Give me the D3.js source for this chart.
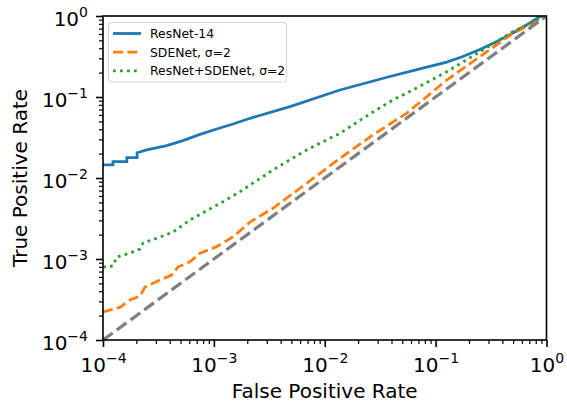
<!DOCTYPE html>
<html lang="en">
	<head>
		<meta charset="utf-8">
		<title>ROC curves, log-log</title>
		<script src="https://cdn.jsdelivr.net/npm/d3@7"></script>
		<style type="text/css">
			body { margin: 0; background: #fff; }
			text { font-family: "DejaVu Sans", sans-serif; fill: #000; }
		</style>
	</head>
	<body>
		<script type="text/javascript">

			//Size of the picture
			var w = 567;
			var h = 402;

			//ROC points
			var fprResNet = [1e-4, 1.23e-4, 1.23e-4, 1.64e-4, 1.64e-4, 2.03e-4, 2.03e-4, 2.48e-4, 3.75e-4, 5.26e-4, 7.5e-4, 1.06e-3, 1.49e-3, 2.12e-3, 4.86e-3, 0.0137, 0.0387, 0.0624, 0.126, 0.176, 0.251, 0.357, 0.497, 0.708, 0.872, 1];
			var tprResNet = [0.0145, 0.0145, 0.0159, 0.0159, 0.0178, 0.0178, 0.0205, 0.0222, 0.0251, 0.0289, 0.0346, 0.0403, 0.0464, 0.0546, 0.0759, 0.122, 0.179, 0.212, 0.270, 0.316, 0.386, 0.485, 0.617, 0.820, 0.986, 1];

			var fprSDE = [1e-4, 1.42e-4, 1.75e-4, 2.16e-4, 2.39e-4, 3.27e-4, 4.16e-4, 4.74e-4, 6.09e-4, 7.5e-4, 1.06e-3, 1.49e-3, 2.12e-3, 3.41e-3, 6.87e-3, 0.0137, 0.0272, 0.0547, 0.126, 0.251, 0.497, 0.873, 1];
			var tprSDE = [2.22e-4, 2.53e-4, 3.12e-4, 3.49e-4, 4.51e-4, 5.5e-4, 6.34e-4, 7.96e-4, 9.26e-4, 1.18e-3, 1.42e-3, 1.88e-3, 2.86e-3, 4.23e-3, 8.6e-3, 0.0175, 0.0340, 0.0629, 0.162, 0.315, 0.611, 0.893, 1];

			var fprBoth = [1e-4, 1.23e-4, 1.33e-4, 1.75e-4, 2.16e-4, 2.30e-4, 3.05e-4, 4.28e-4, 6.09e-4, 8.61e-4, 1.21e-3, 1.72e-3, 3.41e-3, 6.87e-3, 0.0137, 0.0272, 0.0412, 0.0624, 0.126, 0.251, 0.497, 0.815, 1];
			var tprBoth = [7.96e-4, 8.2e-4, 1.06e-3, 1.18e-3, 1.33e-3, 1.58e-3, 1.80e-3, 2.15e-3, 3.03e-3, 3.95e-3, 5.10e-3, 6.78e-3, 0.01256, 0.0222, 0.0356, 0.0653, 0.0918, 0.122, 0.205, 0.362, 0.640, 0.893, 1];

			//Chance line
			var fprChance = [1e-4, 1];
			var tprChance = [1e-4, 1];

			var seriesNames = ["ResNet-14", "SDENet, σ=2", "ResNet+SDENet, σ=2"];
			var majorTicks = [1e-4, 1e-3, 1e-2, 1e-1, 1];
			var tickExponents = ["−4", "−3", "−2", "−1", "0"];

			//Plot area (not named "top": that is window.top)
			var plotL = 103, plotR = 546.5, plotT = 16, plotB = 340;

			var x = d3.scaleLog().domain([1e-4, 1]).range([plotL, plotR]);
			var y = d3.scaleLog().domain([1e-4, 1]).range([plotB, plotT]);

			var minorTicks = [];
			for (var k = -4; k < 0; k++) {
				for (var m = 2; m <= 9; m++) { minorTicks.push(m * Math.pow(10, k)); }
			}

			var svg = d3.select("body")
						.append("svg")
						.attr("width", w)
						.attr("height", h);

			svg.append("clipPath").attr("id", "plotclip")
			   .append("rect")
			   .attr("x", plotL).attr("y", plotT)
			   .attr("width", plotR - plotL).attr("height", plotB - plotT);

			var line = d3.line()
						 .x(function(d) { return x(d[0]); })
						 .y(function(d) { return y(d[1]); });

			function pairs(a, b) { return a.map(function(v, i) { return [v, b[i]]; }); }

			var series = [
				{ pts: pairs(fprResNet, tprResNet), color: "#1f77b4", width: 2.8, dash: null },
				{ pts: pairs(fprSDE, tprSDE), color: "#ff7f0e", width: 2.8, dash: "10,4.4" },
				{ pts: pairs(fprBoth, tprBoth), color: "#2ca02c", width: 2.8, dash: "2.8,4.2" },
				{ pts: pairs(fprChance, tprChance), color: "#7f7f7f", width: 3.2, dash: "12,5" }
			];

			var plot = svg.append("g").attr("clip-path", "url(#plotclip)");
			plot.selectAll("path")
				.data(series)
				.enter()
				.append("path")
				.attr("d", function(d) { return line(d.pts); })
				.attr("fill", "none")
				.attr("stroke", function(d) { return d.color; })
				.attr("stroke-width", function(d) { return d.width; })
				.attr("stroke-dasharray", function(d) { return d.dash; });

			//Axes: minor ticks first, then major ticks with labels
			function styleAxis(g, width) {
				g.select(".domain").remove();
				g.selectAll("line").attr("stroke", "#000").attr("stroke-width", width);
			}

			svg.append("g").attr("transform", "translate(0," + plotB + ")")
			   .call(d3.axisBottom(x).tickValues(minorTicks).tickSize(4).tickFormat(""))
			   .call(styleAxis, 1.2);
			svg.append("g").attr("transform", "translate(" + plotL + ",0)")
			   .call(d3.axisLeft(y).tickValues(minorTicks).tickSize(4).tickFormat(""))
			   .call(styleAxis, 1.2);

			var xAxis = svg.append("g").attr("transform", "translate(0," + plotB + ")")
			   .call(d3.axisBottom(x).tickValues(majorTicks).tickSize(7).tickFormat(""))
			   .call(styleAxis, 1.6);
			var yAxis = svg.append("g").attr("transform", "translate(" + plotL + ",0)")
			   .call(d3.axisLeft(y).tickValues(majorTicks).tickSize(7).tickFormat(""))
			   .call(styleAxis, 1.6);

			function powerLabel(sel) {
				sel.each(function(d, i) {
					var t = d3.select(this);
					t.text(null);
					t.append("tspan").text("10");
					t.append("tspan").attr("dy", -9).style("font-size", "14px").text(tickExponents[i]);
				});
			}

			xAxis.selectAll(".tick").append("text")
				 .attr("y", 32).attr("text-anchor", "middle")
				 .style("font-size", "20px")
				 .call(powerLabel);
			yAxis.selectAll(".tick").append("text")
				 .attr("x", -15).attr("y", 9).attr("text-anchor", "end")
				 .style("font-size", "20px")
				 .call(powerLabel);

			//Frame
			svg.append("rect")
			   .attr("x", plotL).attr("y", plotT)
			   .attr("width", plotR - plotL).attr("height", plotB - plotT)
			   .attr("fill", "none").attr("stroke", "#000").attr("stroke-width", 1.6);

			//Axis titles
			svg.append("text")
			   .attr("x", (plotL + plotR) / 2).attr("y", 398)
			   .attr("text-anchor", "middle").style("font-size", "20px")
			   .text("False Positive Rate");
			svg.append("text")
			   .attr("transform", "translate(26.5," + (plotT + plotB) / 2 + ") rotate(-90)")
			   .attr("text-anchor", "middle").style("font-size", "20px")
			   .text("True Positive Rate");

			//Legend
			var legend = svg.append("g");
			legend.append("rect")
				  .attr("x", 108.5).attr("y", 22.5)
				  .attr("width", 178).attr("height", 59.5)
				  .attr("rx", 3.5)
				  .attr("fill", "#fff").attr("fill-opacity", 0.8)
				  .attr("stroke", "#d6d6d6").attr("stroke-width", 1.2);

			var rows = legend.selectAll("g.row")
				  .data(seriesNames)
				  .enter()
				  .append("g")
				  .attr("class", "row")
				  .attr("transform", function(d, i) { return "translate(0," + (33.5 + i * 18.7) + ")"; });
			rows.append("line")
				.attr("x1", 113).attr("x2", 141)
				.attr("stroke", function(d, i) { return series[i].color; })
				.attr("stroke-width", function(d, i) { return series[i].width; })
				.attr("stroke-dasharray", function(d, i) { return series[i].dash; });
			rows.append("text")
				.attr("x", 150).attr("y", 4.4)
				.style("font-size", "12.4px")
				.text(function(d) { return d; });

		</script>
	</body>
</html>
